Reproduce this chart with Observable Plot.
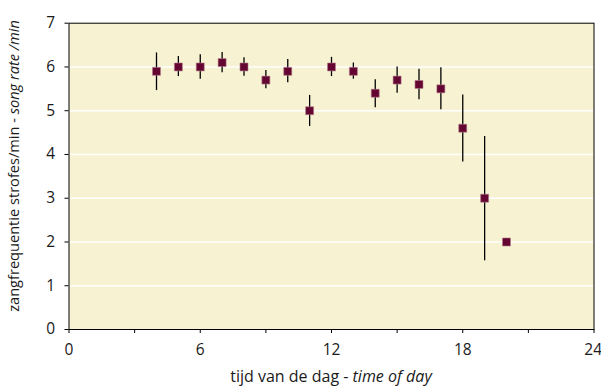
<!DOCTYPE html>
<html>
<head>
<meta charset="utf-8">
<script src="https://cdn.jsdelivr.net/npm/d3@7"></script>
<script src="https://cdn.jsdelivr.net/npm/@observablehq/plot@0.6"></script>
<style>
  html, body { margin: 0; padding: 0; background: #fff; }
  #chart svg { display: block; }
  #chart svg g[aria-label$="tick label"] text { font-size: 15.5px; }
</style>
</head>
<body>
<div id="chart"></div>
<script>
const hours = [4, 5, 6, 7, 8, 9, 10, 11, 12, 13, 14, 15, 16, 17, 18, 19, 20];
const songRate = [5.9, 6.0, 6.0, 6.1, 6.0, 5.7, 5.9, 5.0, 6.0, 5.9, 5.4, 5.7, 5.6, 5.5, 4.6, 3.0, 2.0];
const errLow = [5.46, 5.78, 5.72, 5.87, 5.79, 5.50, 5.64, 4.64, 5.78, 5.72, 5.07, 5.40, 5.25, 5.02, 3.83, 1.57, null];
const errHigh = [6.32, 6.24, 6.28, 6.33, 6.21, 5.92, 6.17, 5.35, 6.22, 6.09, 5.71, 6.00, 5.95, 5.98, 5.36, 4.41, null];
const xMajorTicks = [0, 6, 12, 18];
const xEdgeTicks = [24];
const xMinorTicks = [3, 9, 15, 21];
const yTicks = [0, 1, 2, 3, 4, 5, 6, 7];
const gridValues = [1, 2, 3, 4, 5, 6];

const data = hours.map((h, i) => ({h, v: songRate[i], lo: errLow[i], hi: errHigh[i]}));
const errData = data.filter(d => d.lo != null);

const fontFamily = "'Open Sans', sans-serif";

const chart = Plot.plot({
  width: 601,
  height: 387,
  marginLeft: 68.5,
  marginRight: 7.5,
  marginTop: 22.7,
  marginBottom: 58,
  style: {fontFamily, fontSize: "15px", color: "#1a1a1a", background: "#fff", overflow: "visible"},
  x: {domain: [0, 24]},
  y: {domain: [0, 7]},
  marks: [
    Plot.frame({fill: "#f7f3d2", stroke: null}),
    Plot.ruleY(gridValues, {stroke: "#ffffff", strokeWidth: 1.6}),
    Plot.frame({stroke: "#000", strokeWidth: 1}),
    Plot.axisY({ticks: yTicks, tickSize: 4, tickPadding: 10, label: null, tickFormat: d3.format("d"), stroke: "#000"}),
    Plot.axisX({ticks: xMajorTicks, tickSize: 4, tickPadding: 10, label: null, tickFormat: d3.format("d"), stroke: "#000"}),
    Plot.axisX({ticks: xMinorTicks.concat(xEdgeTicks), tickSize: 4, tickFormat: () => "", label: null, stroke: "#000"}),
    Plot.axisX({ticks: xEdgeTicks, tickSize: 0, tickPadding: 14, textAnchor: "end", dx: 8, label: null, tickFormat: d3.format("d")}),
    Plot.ruleX(errData, {x: "h", y1: "lo", y2: "hi", stroke: "#000", strokeWidth: 1.3}),
    Plot.dot(data, {x: "h", y: "v", symbol: "square", r: 4.5, fill: "#650531", stroke: "#b07a8a", strokeWidth: 0.6})
  ]
});

const svg = d3.select(chart);
const xs = chart.scale("x");
// x axis title
const xt = svg.append("text")
  .attr("x", (xs.apply(0) + xs.apply(24)) / 2)
  .attr("y", 382)
  .attr("text-anchor", "middle")
  .attr("font-family", fontFamily)
  .attr("font-size", 16)
  .attr("fill", "#1a1a1a");
xt.append("tspan").text("tijd van de dag - ");
xt.append("tspan").attr("font-style", "italic").text("time of day");
// y axis title
const yt = svg.append("text")
  .attr("transform", `translate(19,166) rotate(-90)`)
  .attr("text-anchor", "middle")
  .attr("font-family", fontFamily)
  .attr("font-size", 14.6)
  .attr("fill", "#1a1a1a");
yt.append("tspan").text("zangfrequentie strofes/min - ");
yt.append("tspan").attr("font-style", "italic").text("song rate /min");

document.getElementById("chart").appendChild(chart);
</script>
</body>
</html>
